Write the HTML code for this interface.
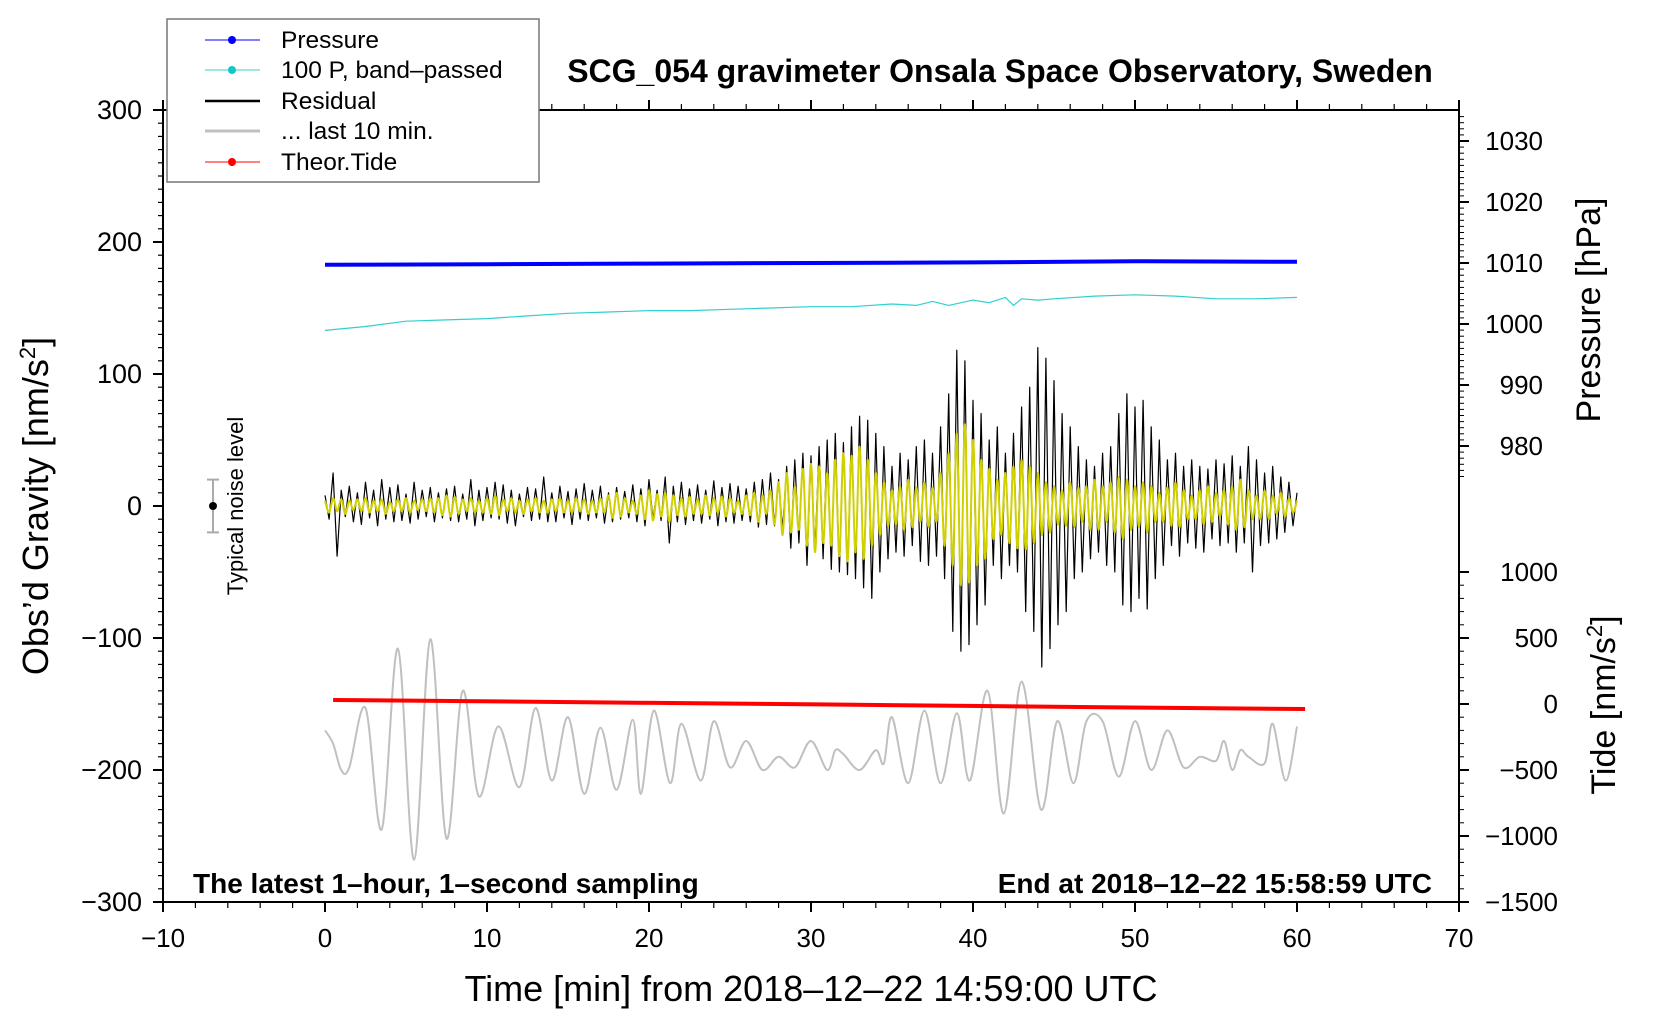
<!DOCTYPE html>
<html><head><meta charset="utf-8"><style>
body{margin:0;background:#fff}
svg{display:block;font-family:"Liberation Sans",sans-serif}
.n{font-family:"Liberation Sans Narrow","Liberation Sans",sans-serif}
</style></head><body>
<svg id="c" width="1660" height="1020" viewBox="0 0 1660 1020"></svg>
<script>
const blackRes=[8,-10,25,-38,12,-8,15,-12,10,-14,18,-9,12,-15,20,-10,14,-12,16,-11,9,-13,18,-10,12,-8,14,-12,
10,-9,13,-11,15,-12,9,-10,20,-15,12,-11,14,-9,18,-10,16,-13,12,-15,9,-8,14,-11,13,-10,22,-12,
10,-12,15,-9,11,-14,13,-10,17,-11,12,-9,15,-13,10,-12,14,-10,11,-9,16,-12,13,-15,20,-10,12,-11,
22,-28,15,-12,18,-14,13,-11,16,-13,12,-10,19,-15,14,-12,17,-13,15,-11,13,-12,18,-16,20,-14,25,-15,
20,-18,30,-32,35,-28,40,-45,38,-35,45,-40,50,-48,55,-50,48,-52,60,-55,68,-62,65,-70,55,-50,45,-40,
30,-35,40,-38,35,-30,45,-42,50,-45,40,-38,60,-55,85,-95,118,-110,110,-105,80,-90,70,-75,50,-45,60,-55,
40,-45,55,-50,75,-80,90,-95,120,-122,112,-108,95,-90,70,-80,60,-55,45,-50,35,-40,30,-35,40,-45,45,-50,
70,-75,85,-80,75,-70,80,-78,60,-55,50,-45,35,-30,40,-38,30,-28,35,-32,30,-35,28,-25,35,-30,32,-28,
38,-35,30,-28,45,-50,35,-30,25,-28,30,-25,22,-20,18,-15,10];
const yellowRes=[4,-5,6,-4,5,-6,4,-3,5,-4,6,-5,4,-4,5,-6,3,-4,5,-4,6,-5,4,-3,5,-4,6,-5,
6,-7,8,-8,7,-6,5,-4,6,-5,4,-5,6,-6,8,-7,5,-4,6,-5,4,-6,5,-4,6,-5,4,-5,
5,-4,6,-5,4,-5,6,-4,5,-6,4,-5,6,-5,8,-9,10,-8,6,-5,4,-6,8,-10,12,-11,9,-8,
10,-12,8,-7,6,-8,7,-6,5,-6,8,-7,6,-5,7,-8,6,-5,4,-6,8,-7,10,-12,8,-6,12,-14,
18,-22,25,-20,15,-18,28,-30,32,-35,30,-28,25,-30,35,-38,40,-42,38,-35,45,-40,35,-30,25,-22,18,-15,
12,-14,15,-18,20,-16,14,-12,18,-16,14,-12,25,-30,40,-45,55,-60,62,-58,50,-45,35,-40,28,-25,20,-22,
25,-28,30,-32,35,-33,30,-28,25,-22,18,-20,15,-14,12,-15,18,-16,14,-12,15,-18,20,-18,15,-12,18,-20,
22,-25,20,-18,15,-16,18,-20,15,-12,10,-12,14,-15,18,-16,12,-10,8,-10,12,-14,15,-12,10,-8,12,-14,
15,-18,20,-16,12,-10,8,-10,12,-10,8,-6,10,-8,6,-5,4];
const grayT=[0,0.5,1,1.5,2.5,3.5,4.5,5.5,6.5,7.5,8.5,9.5,10.7,12,13,14,15,16,17,18,19,19.5,20.3,21.3,22,23.2,24,25,26,27,28,29,30,31,31.5,32,33,34,34.5,35,36,37,38,39,39.8,40.9,41.9,43,44.2,45.2,46.2,47,48,49,50,51,52,53,54,55,55.5,56,56.5,57,58,58.5,59.3,60];
const grayV=[-170,-180,-200,-198,-153,-245,-108,-268,-101,-252,-140,-220,-167,-213,-153,-208,-160,-218,-168,-215,-162,-218,-155,-210,-165,-208,-163,-198,-178,-200,-190,-198,-178,-200,-185,-188,-200,-185,-195,-160,-210,-155,-210,-157,-208,-140,-233,-133,-230,-163,-210,-163,-163,-205,-163,-200,-170,-198,-190,-193,-178,-200,-185,-190,-195,-165,-208,-167];
const presT=[0,10,20,30,40,50,60];
const presV=[1009.7,1009.8,1009.9,1010.0,1010.1,1010.3,1010.2];
const cyanT=[0,2.5,5,7.5,10,12.5,15,17.5,20,22.5,25,27.5,30,32.5,35,36.5,37.5,38.5,40,41,42,42.5,43,44,45,47.5,50,52.5,55,57.5,60];
const cyanV=[133,136,140,141,142,144,146,147,148,148,149,150,151,151,153,152,155,152,156,154,158,152,157,156,157,159,160,159,157,157,158];
const tideT=[0.5,10.5,20.5,30.5,40.5,50.5,60.5];
const tideV=[30,20,8,-3,-15,-27,-38];
const xTicks=[-10,0,10,20,30,40,50,60,70];
const gTicks=[300,200,100,0,-100,-200,-300];
const pTicks=[1030,1020,1010,1000,990,980];
const tTicks=[1000,500,0,-500,-1000,-1500];

const L=163,R=1459,T=110,B=902;
const X=v=>L+(v+10)*(R-L)/80;
const Yg=v=>T+(300-v)*(B-T)/600;
const Yp=v=>141+(1030-v)*6.1;
const Yt=v=>704-v*0.132;
const svg=document.getElementById('c');const NS='http://www.w3.org/2000/svg';
function el(tag,a,txt){const e=document.createElementNS(NS,tag);for(const k in a)e.setAttribute(k,a[k]);if(txt!=null)e.textContent=txt;svg.appendChild(e);return e;}
function poly(pts,stroke,w,name){const e=el('polyline',{points:pts.map(p=>p[0].toFixed(1)+','+p[1].toFixed(1)).join(' '),fill:'none',stroke:stroke,'stroke-width':w,'stroke-linejoin':'round'});

return e;}
function smooth(pts,stroke,w,name){let d='M'+pts[0][0]+','+pts[0][1];for(let i=0;i<pts.length-1;i++){const p0=pts[Math.max(0,i-1)],p1=pts[i],p2=pts[i+1],p3=pts[Math.min(pts.length-1,i+2)];
d+=' C'+(p1[0]+(p2[0]-p0[0])/6).toFixed(1)+','+(p1[1]+(p2[1]-p0[1])/6).toFixed(1)+' '+(p2[0]-(p3[0]-p1[0])/6).toFixed(1)+','+(p2[1]-(p3[1]-p1[1])/6).toFixed(1)+' '+p2[0].toFixed(1)+','+p2[1].toFixed(1);}
const e=el('path',{d:d,fill:'none',stroke:stroke,'stroke-width':w});

}
smooth(grayT.map((t,i)=>[X(t),Yg(grayV[i])]),'#c0c0c0',2,'last-10-min-line');
poly(blackRes.map((v,i)=>[X(i*0.25),Yg(v)]),'#000',1.2,'residual-line');
smooth(yellowRes.map((v,i)=>[X(i*0.25),Yg(v)]),'#d0d000',2,'filtered-residual-line');
poly(presT.map((t,i)=>[X(t),Yp(presV[i])]),'#0000ff',4,'pressure-line');
poly(cyanT.map((t,i)=>[X(t),Yg(cyanV[i])]),'#30d0d0',1.2,'band-passed-pressure-line');
poly(tideT.map((t,i)=>[X(t),Yt(tideV[i])]),'#ff0000',4,'theoretical-tide-line');
el('rect',{x:L,y:T,width:R-L,height:B-T,fill:'none',stroke:'#000','stroke-width':2,});
for(let v=-10;v<=70;v+=2){const maj=v%10===0;const x=X(v);
el('line',{x1:x,x2:x,y1:B,y2:B+(maj?10:6),stroke:'#000','stroke-width':maj?2:1.2});
el('line',{x1:x,x2:x,y1:T,y2:T-(maj?10:6),stroke:'#000','stroke-width':maj?2:1.2});}
xTicks.forEach(v=>{const t=el('text',{x:X(v),y:947,'font-size':26,'text-anchor':'middle'},String(v).replace('-','\u2212'));

});
for(let v=-300;v<=300;v+=10){const maj=v%100===0;const y=Yg(v);
el('line',{x1:L,x2:L-(maj?10:5),y1:y,y2:y,stroke:'#000','stroke-width':maj?2:1.2});}
gTicks.forEach(v=>{const t=el('text',{x:142,y:Yg(v)+9,'font-size':27,'text-anchor':'end'},String(v).replace('-','\u2212'));

});
for(let v=975;v<=1034;v++){const maj=v%10===0;const y=Yp(v);if(y<T||y>B)continue;
el('line',{x1:R,x2:R+(maj?10:5),y1:y,y2:y,stroke:'#000','stroke-width':maj?2:1});}
pTicks.forEach(v=>{const t=el('text',{x:1543,y:Yp(v)+9,'font-size':26,'text-anchor':'end'},String(v));

});
for(let v=-1500;v<=1000;v+=100){const maj=v%500===0;const y=Yt(v);
el('line',{x1:R,x2:R+(maj?10:5),y1:y,y2:y,stroke:'#000','stroke-width':maj?2:1});}
tTicks.forEach(v=>{const t=el('text',{x:1558,y:Yt(v)+9,'font-size':26,'text-anchor':'end'},String(v).replace('-','\u2212'));

});
const nx=213;el('line',{x1:nx,x2:nx,y1:Yg(20),y2:Yg(-20),stroke:'#aaa','stroke-width':2});
el('line',{x1:nx-6,x2:nx+6,y1:Yg(20),y2:Yg(20),stroke:'#aaa','stroke-width':2});
el('line',{x1:nx-6,x2:nx+6,y1:Yg(-20),y2:Yg(-20),stroke:'#aaa','stroke-width':2});
el('circle',{cx:nx,cy:Yg(0),r:4,fill:'#000',});
</script>
<svg width="1660" height="1020" style="position:absolute;left:0;top:0">
<g font-family="Liberation Sans, sans-serif">
<text x="243" y="506" font-size="22" text-anchor="middle" transform="rotate(-90 243 506)">Typical noise level</text>
<text x="1000" y="82" font-size="32" font-weight="bold" text-anchor="middle">SCG_054 gravimeter Onsala Space Observatory, Sweden</text>
<text x="193" y="893" font-size="28" font-weight="bold">The latest 1–hour, 1–second sampling</text>
<text x="1432" y="893" font-size="28" font-weight="bold" text-anchor="end">End at 2018–12–22 15:58:59 UTC</text>
<text x="48" y="506" font-size="36" text-anchor="middle" transform="rotate(-90 48 506)">Obs’d Gravity [nm/s<tspan font-size="22" dy="-13">2</tspan><tspan dy="13">]</tspan></text>
<text x="1600" y="310" font-size="34" text-anchor="middle" transform="rotate(-90 1600 310)" class="n">Pressure [hPa]</text>
<text x="1615" y="705" font-size="34" text-anchor="middle" transform="rotate(-90 1615 705)" class="n">Tide [nm/s<tspan font-size="22" dy="-13">2</tspan><tspan dy="13">]</tspan></text>
<text x="811" y="1001" font-size="36" text-anchor="middle" class="n">Time [min] from 2018–12–22 14:59:00 UTC</text>
</g>
<g>
<rect x="167" y="19" width="372" height="163" fill="#fff" stroke="#777" stroke-width="1.5"/>
<line x1="205" y1="40" x2="260" y2="40" stroke="#0000ff" stroke-width="1"/><circle cx="232" cy="40" r="4" fill="#0000ff"/>
<text x="281" y="48" font-size="24.5">Pressure</text>
<line x1="205" y1="70" x2="260" y2="70" stroke="#30d0d0" stroke-width="1"/><circle cx="232" cy="70" r="4" fill="#10c8c8"/>
<text x="281" y="78" font-size="24.5">100 P, band–passed</text>
<line x1="205" y1="101" x2="260" y2="101" stroke="#000" stroke-width="2.5"/>
<text x="281" y="109" font-size="24.5">Residual</text>
<line x1="205" y1="131" x2="260" y2="131" stroke="#c0c0c0" stroke-width="3"/>
<text x="281" y="139" font-size="24.5">... last 10 min.</text>
<line x1="205" y1="162" x2="260" y2="162" stroke="#ff0000" stroke-width="1"/><circle cx="232" cy="162" r="4" fill="#ff0000"/>
<text x="281" y="170" font-size="24.5">Theor.Tide</text>
</g>
</svg>
</body></html>
